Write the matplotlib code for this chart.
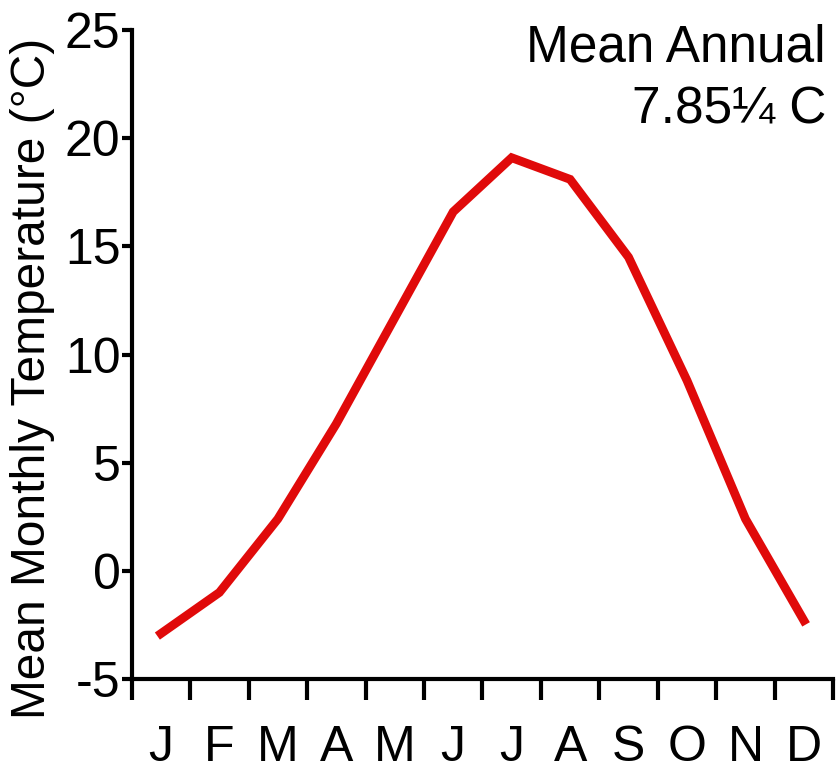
import numpy as np
import matplotlib.pyplot as plt

# monthly mean temperatures
months = ['J', 'F', 'M', 'A', 'M', 'J', 'J', 'A', 'S', 'O', 'N', 'D']
temps = [-2.9, -1.0, 2.4, 6.8, 11.7, 16.6, 19.1, 18.1, 14.5, 8.8, 2.4, -2.3]
y_ticks = [-5, 0, 5, 10, 15, 20, 25]

plt.rcParams['font.family'] = ['Liberation Sans', 'DejaVu Sans']

fig = plt.figure(figsize=(8.39, 7.72), dpi=100)
ax = fig.add_axes([0.157, 0.1205, 0.836, 0.8405])

x = np.arange(1, 13)
ax.plot(x, temps, color='#e00a0a', linewidth=6.3, solid_joinstyle='miter')

ax.set_xlim(0.5, 12.5)
ax.set_ylim(-5, 25)

# boundary ticks between months, labels centred on months
ax.set_xticks(np.arange(0.5, 13, 1))
ax.set_xticklabels([])
ax.set_xticks(x, minor=True)
ax.set_xticklabels(months, minor=True, fontsize=36)
ax.tick_params(axis='x', which='major', direction='out', length=15, width=3)
ax.tick_params(axis='x', which='minor', length=0, pad=33)

ax.set_yticks(y_ticks)
ax.set_yticklabels([str(v) for v in y_ticks], fontsize=36)
ax.tick_params(axis='y', direction='out', length=7, width=3, pad=1)

for s in ['top', 'right']:
    ax.spines[s].set_visible(False)
for s in ['left', 'bottom']:
    ax.spines[s].set_linewidth(3)

ax.set_ylabel('Mean Monthly Temperature (°C)', fontsize=34.5)
ax.yaxis.set_label_coords(-0.11, 0.464)

ax.text(0.99, 1.01, 'Mean Annual\n7.85¼ C', transform=ax.transAxes,
        ha='right', va='top', fontsize=37, linespacing=1.33)

plt.savefig('out.png', dpi=100)
